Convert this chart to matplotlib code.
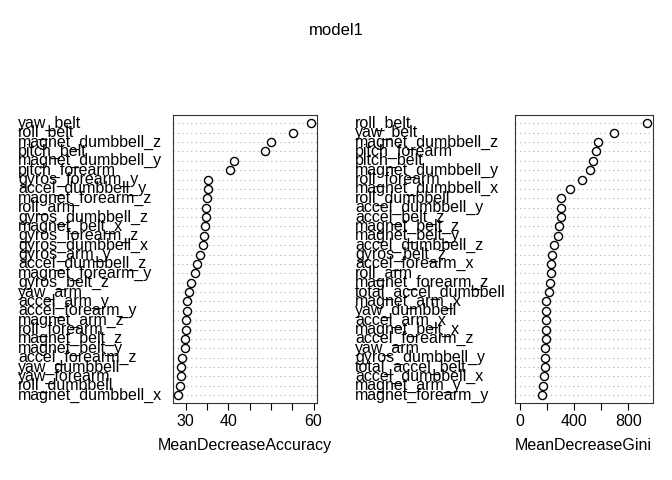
import matplotlib
matplotlib.use('Agg')
import matplotlib.pyplot as plt
from matplotlib.transforms import blended_transform_factory

plt.rcParams['font.family'] = ['Liberation Sans', 'DejaVu Sans']

acc_labels = ['yaw_belt', 'roll_belt', 'magnet_dumbbell_z', 'pitch_belt', 'magnet_dumbbell_y',
              'pitch_forearm', 'gyros_forearm_y', 'accel_dumbbell_y', 'magnet_forearm_z', 'roll_arm',
              'gyros_dumbbell_z', 'magnet_belt_x', 'gyros_forearm_z', 'gyros_dumbbell_x', 'gyros_arm_y',
              'accel_dumbbell_z', 'magnet_forearm_y', 'gyros_belt_z', 'yaw_arm', 'accel_arm_y',
              'accel_forearm_y', 'magnet_arm_z', 'roll_forearm', 'magnet_belt_z', 'magnet_belt_y',
              'accel_forearm_z', 'yaw_dumbbell', 'yaw_forearm', 'roll_dumbbell', 'magnet_dumbbell_x']
acc_values = [59.4, 55.1, 50.0, 48.6, 41.3, 40.5, 35.2, 35.2, 35.1, 34.9,
              34.8, 34.6, 34.4, 34.1, 33.4, 32.7, 32.3, 31.3, 30.8, 30.3,
              30.3, 30.2, 30.2, 29.9, 29.8, 29.1, 29.0, 28.9, 28.8, 28.3]

gini_labels = ['roll_belt', 'yaw_belt', 'magnet_dumbbell_z', 'pitch_forearm', 'pitch_belt',
               'magnet_dumbbell_y', 'roll_forearm', 'magnet_dumbbell_x', 'roll_dumbbell', 'accel_dumbbell_y',
               'accel_belt_z', 'magnet_belt_z', 'magnet_belt_y', 'accel_dumbbell_z', 'gyros_belt_z',
               'accel_forearm_x', 'roll_arm', 'magnet_forearm_z', 'total_accel_dumbbell', 'magnet_arm_x',
               'yaw_dumbbell', 'accel_arm_x', 'magnet_belt_x', 'accel_forearm_z', 'yaw_arm',
               'gyros_dumbbell_y', 'total_accel_belt', 'accel_dumbbell_x', 'magnet_arm_y', 'magnet_forearm_y']
gini_values = [937, 692, 579, 564, 540, 520, 456, 368, 307, 307,
               302, 292, 280, 250, 240, 233, 228, 221, 216, 196,
               194, 191, 191, 191, 189, 189, 184, 177, 172, 164]

FS = 11.5


def dotchart(fig, ax, labels, values, label_x, xlim, ticks, ticklabels, xlabel):
    n = len(labels)
    ys = list(range(n))
    for y in ys:
        ax.axhline(y, color='#b0b0b0', lw=0.8, ls=(0, (1, 3)), zorder=1)
    ax.scatter(values, ys, s=34, facecolors='white', edgecolors='black', linewidths=1, zorder=3)
    ax.set_ylim(n - 1 + 0.86, -0.86)
    ax.set_xlim(*xlim)
    ax.set_yticks([])
    tr = blended_transform_factory(fig.transFigure, ax.transData)
    for y, lab in zip(ys, labels):
        ax.text(label_x / 672, y, lab, transform=tr, ha='left', va='center',
                fontsize=FS, clip_on=False)
    ax.set_xticks(ticks)
    ax.set_xticklabels(ticklabels, fontsize=FS)
    ax.tick_params(axis='x', length=5, direction='out', pad=3)
    ax.set_xlabel(xlabel, fontsize=FS, labelpad=6)
    for s in ax.spines.values():
        s.set_color('#333333')


fig = plt.figure(figsize=(6.72, 4.8), dpi=100)
ax1 = fig.add_axes([0.257, 0.160, 0.214, 0.600])
ax2 = fig.add_axes([0.766, 0.160, 0.205, 0.600])

dotchart(fig, ax1, acc_labels, acc_values, 18, (27.0, 60.7), [30, 35, 40, 45, 50, 55, 60],
         ['30', '', '40', '', '', '', '60'], 'MeanDecreaseAccuracy')
dotchart(fig, ax2, gini_labels, gini_values, 355, (-37, 977), [0, 200, 400, 600, 800],
         ['0', '', '400', '', '800'], 'MeanDecreaseGini')

fig.text(0.5, 0.937, 'model1', ha='center', va='center', fontsize=12)
fig.savefig('out.png', dpi=100)
